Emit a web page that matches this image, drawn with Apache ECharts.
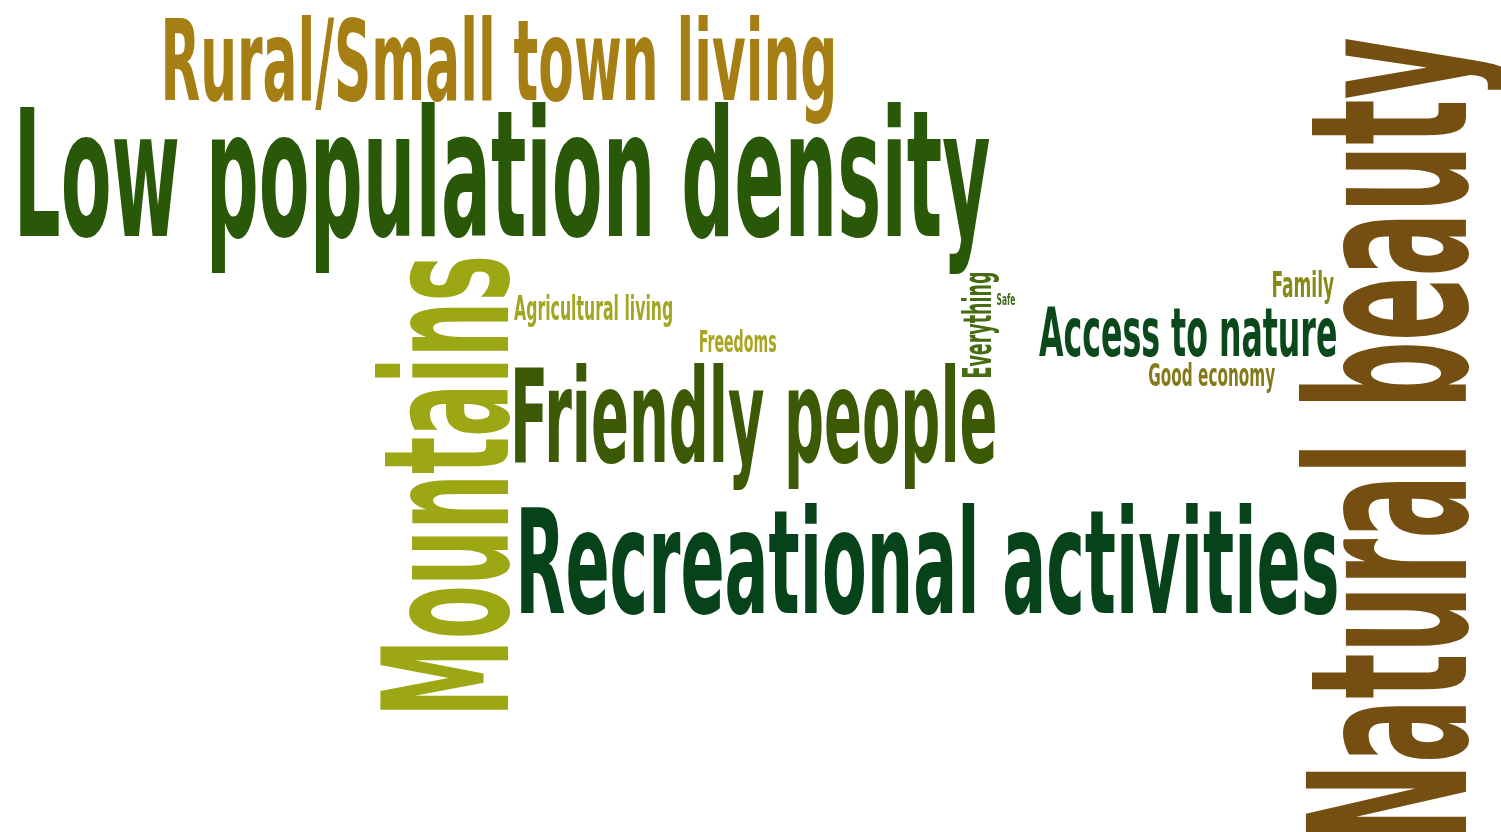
<!DOCTYPE html>
<html>
<head>
<meta charset="utf-8">
<script src="https://cdn.jsdelivr.net/npm/echarts@6/dist/echarts.min.js"></script>
<style>
  html, body { margin: 0; padding: 0; background: #fff; }
  #cloud { width: 1501px; height: 832px; }
</style>
</head>
<body>
<div id="cloud"></div>
<script>
// words and their weight (weight = letter cap height in chart units)
var words = ['Natural beauty', 'Low population density', 'Mountains', 'Recreational activities',
  'Friendly people', 'Rural/Small town living', 'Access to nature', 'Everything', 'Family',
  'Agricultural living', 'Good economy', 'Freedoms', 'Safe'];
var weights = [160, 129, 128, 106, 95, 82, 50, 28, 26, 25, 23, 22, 11];

// layout: start of baseline, end of baseline (chart units), reading angle
var startX = [1466, 20, 508, 521, 515, 165, 1039, 991, 1273, 514, 1149, 700, 997];
var startY = [834, 236, 710, 613, 462, 100, 356, 377, 297, 320, 386, 352, 305];
var endX = [1466, 990, 508, 1337, 995, 833, 1336, 991, 1334, 672, 1275, 776, 1015];
var endY = [38, 236, 258, 613, 462, 100, 356, 273, 297, 320, 386, 352, 305];
var palette = ['#754f12', '#285808', '#9da713', '#06421a', '#3c5a05', '#a67f14', '#0b491c',
  '#466b12', '#878a17', '#a2a622', '#857a1a', '#a9a421', '#3d6a1a'];

var FONT = 'bold 100px "DejaVu Sans Condensed", "Liberation Sans Narrow", "DejaVu Sans", sans-serif';
var ctx = document.createElement('canvas').getContext('2d');
ctx.font = FONT;
ctx.textBaseline = 'alphabetic';
var capH = ctx.measureText('H').actualBoundingBoxAscent;
ctx.textBaseline = 'middle';
var midToBase = ctx.measureText('H').actualBoundingBoxDescent;
ctx.textBaseline = 'alphabetic';

var data = words.map(function (w, i) {
  return [startX[i], startY[i], endX[i], endY[i], weights[i], i];
});

var chart = echarts.init(document.getElementById('cloud'));
chart.setOption({
  animation: false,
  grid: { left: 0, right: 0, top: 0, bottom: 0 },
  xAxis: { type: 'value', min: 0, max: 1501, show: false },
  yAxis: { type: 'value', min: 0, max: 832, inverse: true, show: false },
  series: [{
    type: 'custom',
    coordinateSystem: 'cartesian2d',
    silent: true,
    data: data,
    encode: { x: [0, 2], y: [1, 3] },
    renderItem: function (params, api) {
      var i = api.value(5);
      var p0 = api.coord([api.value(0), api.value(1)]);
      var p1 = api.coord([api.value(2), api.value(3)]);
      var len = Math.sqrt(Math.pow(p1[0] - p0[0], 2) + Math.pow(p1[1] - p0[1], 2));
      var cap = api.size([0, api.value(4)])[1];
      var m = ctx.measureText(words[i]);
      var inkW = m.actualBoundingBoxLeft + m.actualBoundingBoxRight;
      return {
        type: 'text',
        x: p0[0],
        y: p0[1],
        rotation: Math.atan2(p0[1] - p1[1], p1[0] - p0[0]),
        scaleX: len / inkW,
        scaleY: cap / capH,
        style: {
          text: words[i],
          x: m.actualBoundingBoxLeft,
          y: -midToBase,
          font: FONT,
          fill: palette[i],
          align: 'left',
          verticalAlign: 'middle'
        }
      };
    }
  }]
});
</script>
</body>
</html>
